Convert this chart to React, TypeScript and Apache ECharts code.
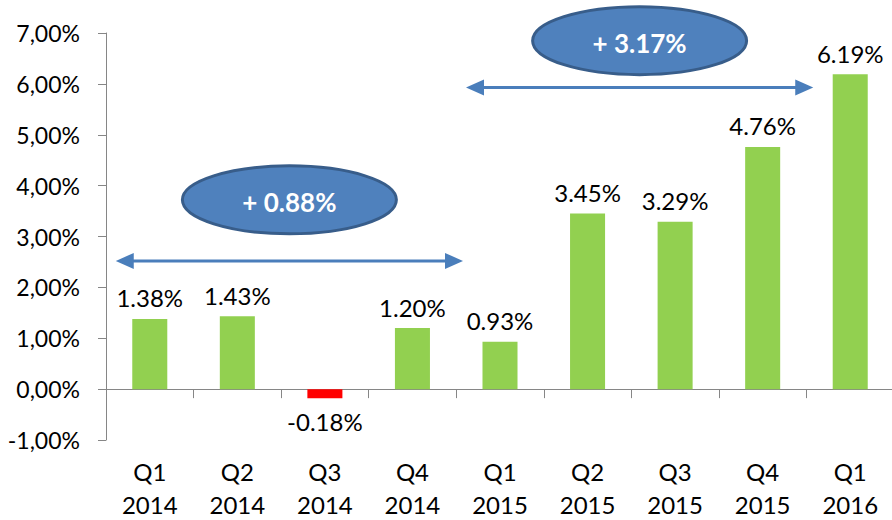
import React, { useEffect, useRef } from "react";
import * as echarts from "echarts";

const categories = ["Q1\n2014", "Q2\n2014", "Q3\n2014", "Q4\n2014", "Q1\n2015", "Q2\n2015", "Q3\n2015", "Q4\n2015", "Q1\n2016"];
const values = [1.38, 1.43, -0.18, 1.2, 0.93, 3.45, 3.29, 4.76, 6.19];
const yMin = -1;
const yMax = 7;
const yInterval = 1;
const annotationLabels = ["+ 0.88%", "+ 3.17%"];
const annotationFrom = [0, 4];
const annotationTo = [4, 8];
const arrowValues = [2.52, 5.93];
const bubbleValues = [3.72, 6.85];

const FONT = "Lato, 'Open Sans', sans-serif";
const GREEN = "#92D050";
const RED = "#FF0000";
const AXIS = "#868686";
const BLUE = "#4F81BD";
const BLUE_DARK = "#385D8A";
const ARROW = "#4A7EBB";

export default function App() {
  const ref = useRef<HTMLDivElement>(null);
  useEffect(() => {
    if (!ref.current) return;
    const chart = echarts.init(ref.current, null, { renderer: "svg" });
    chart.setOption({
      animation: false,
      backgroundColor: "#ffffff",
      grid: { left: 106, top: 33, width: 788, height: 407, containLabel: false, outerBoundsMode: "none" },
      xAxis: {
        type: "category",
        data: categories,
        axisLine: { onZero: true, lineStyle: { color: AXIS, width: 1 } },
        axisTick: { show: true, length: 9, interval: 0, lineStyle: { color: AXIS } },
        axisLabel: {
          interval: 0,
          margin: 15,
          color: "#000",
          fontFamily: FONT,
          fontSize: 24,
          lineHeight: 33,
          verticalAlign: "top",
        },
      },
      yAxis: {
        type: "value",
        min: yMin,
        max: yMax,
        interval: yInterval,
        splitLine: { show: false },
        axisLine: { show: true, lineStyle: { color: AXIS, width: 1 } },
        axisTick: { show: true, length: 8, lineStyle: { color: AXIS } },
        axisLabel: {
          margin: 26,
          color: "#000",
          fontFamily: FONT,
          fontSize: 23,
          formatter: (v: number) => v.toFixed(2).replace(".", ",") + "%",
        },
      },
      series: [
        {
          type: "bar",
          barWidth: "40%",
          data: values.map((v) => ({
            value: v,
            itemStyle: { color: v < 0 ? RED : GREEN },
            label: {
              show: true,
              position: v < 0 ? "bottom" : "top",
              distance: v < 0 ? 11 : 9,
              color: "#000",
              fontFamily: FONT,
              fontSize: 24,
              formatter: () => v.toFixed(2) + "%",
            },
          })),
        },
      ],
    });

    const graphics: any[] = [];
    for (let i = 0; i < annotationLabels.length; i++) {
      const p0 = chart.convertToPixel({ xAxisIndex: 0, yAxisIndex: 0 }, [annotationFrom[i], arrowValues[i]]) as number[];
      const p1 = chart.convertToPixel({ xAxisIndex: 0, yAxisIndex: 0 }, [annotationTo[i], arrowValues[i]]) as number[];
      const pb = chart.convertToPixel({ xAxisIndex: 0, yAxisIndex: 0 }, [annotationFrom[i], bubbleValues[i]]) as number[];
      const x0 = p0[0] - 34;
      const x1 = p1[0] - 37;
      const y = p0[1];
      const cx = (x0 + x1) / 2;
      const cy = pb[1];
      graphics.push(
        { type: "line", shape: { x1: x0 + 14, y1: y, x2: x1 - 14, y2: y }, style: { stroke: ARROW, lineWidth: 3 } },
        { type: "polygon", shape: { points: [[x0, y], [x0 + 18, y - 8], [x0 + 18, y + 8]] }, style: { fill: ARROW } },
        { type: "polygon", shape: { points: [[x1, y], [x1 - 18, y - 8], [x1 - 18, y + 8]] }, style: { fill: ARROW } },
        { type: "ellipse", shape: { cx, cy, rx: 107, ry: 34 }, style: { fill: BLUE, stroke: BLUE_DARK, lineWidth: 3 } },
        {
          type: "text",
          x: cx,
          y: cy + 2,
          style: {
            text: annotationLabels[i],
            fill: "#ffffff",
            font: `bold 26px ${FONT}`,
            align: "center",
            verticalAlign: "middle",
          },
        }
      );
    }
    chart.setOption({ graphic: graphics });
    return () => chart.dispose();
  }, []);
  return <div ref={ref} style={{ position: "fixed", left: 0, top: 0, width: 892, height: 520 }} />;
}
